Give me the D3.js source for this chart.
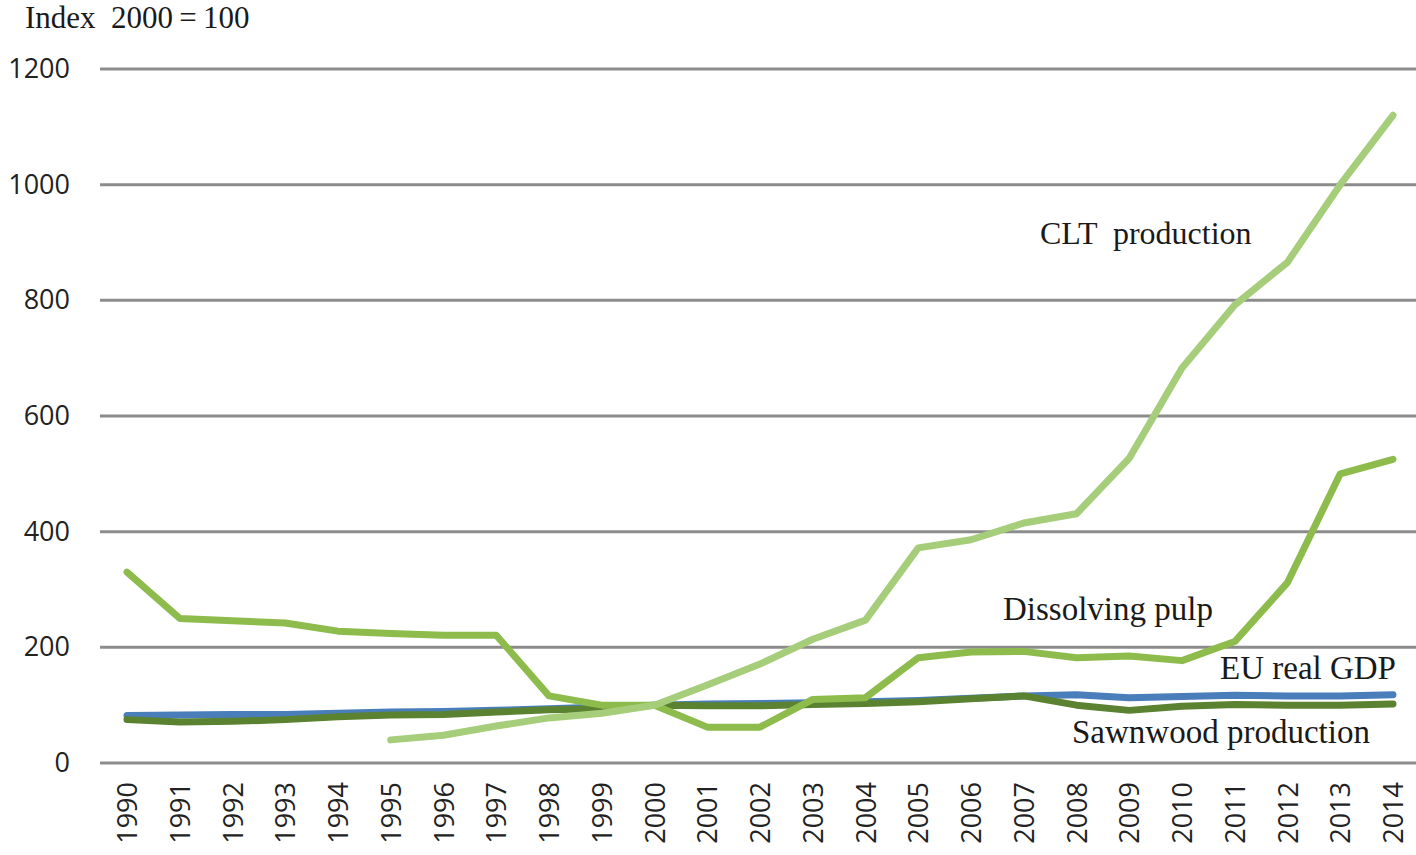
<!DOCTYPE html>
<html>
<head>
<meta charset="utf-8">
<script src="https://cdn.jsdelivr.net/npm/d3@7"></script>
<style>
  body { margin: 0; background: #fff; }
  .tick text { fill: #222; }
</style>
</head>
<body>
<svg width="1416" height="855"></svg>
<script>
var years = d3.range(1990, 2015);
var yTicks = [0, 200, 400, 600, 800, 1000, 1200];

var gdp = [82, 83, 84, 84, 86, 88, 89, 91, 94, 97, 100, 102, 103, 104, 106, 108, 112, 116, 118, 113, 115, 117, 116, 116, 118];
var sawnwood = [75, 71, 72, 75, 80, 83, 84, 88, 92, 94, 100, 99, 99, 101, 103, 106, 111, 116, 100, 91, 98, 101, 100, 100, 102];
var pulp = [330, 250, 246, 242, 228, 224, 221, 221, 116, 100, 100, 62, 62, 110, 113, 182, 192, 193, 182, 185, 177, 210, 312, 500, 525];
// CLT series starts in 1995
var cltYears = d3.range(1995, 2015);
var clt = [40, 48, 64, 78, 86, 100, 135, 171, 214, 247, 372, 386, 415, 431, 527, 683, 792, 866, 1000, 1120];

var svg = d3.select('svg'),
    left = 100,
    x = d3.scaleLinear().domain([1990, 2014]).range([127, 1393]),
    y = d3.scaleLinear().domain([0, 1200]).range([763, 69]);

// gridlines
svg.append('g')
  .selectAll('line')
  .data(yTicks)
  .enter().append('line')
  .attr('x1', left)
  .attr('x2', 1416)
  .attr('y1', function(d) { return y(d); })
  .attr('y2', function(d) { return y(d); })
  .attr('stroke', '#8c8c8c')
  .attr('stroke-width', 3);

// y axis labels
var yAxis = d3.axisLeft(y).tickValues(yTicks).tickFormat(d3.format('d')).tickSize(0).tickPadding(0);
svg.append('g')
  .attr('transform', 'translate(70,0)')
  .call(yAxis)
  .call(function(g) { g.select('.domain').remove(); })
  .selectAll('text')
  .style('font-family', '"Open Sans", "Liberation Sans", sans-serif')
  .style('font-size', '27px');

// x axis labels (rotated)
var xAxis = d3.axisBottom(x).tickValues(years).tickFormat(d3.format('d')).tickSize(0);
svg.append('g')
  .attr('transform', 'translate(0,782)')
  .call(xAxis)
  .call(function(g) { g.select('.domain').remove(); })
  .selectAll('text')
  .style('font-family', '"Open Sans", "Liberation Sans", sans-serif')
  .style('font-size', '27px')
  .attr('text-anchor', 'end')
  .attr('transform', 'rotate(-90)')
  .attr('dy', '0.36em')
  .attr('x', 0)
  .attr('y', 0);

var line = d3.line()
  .x(function(d) { return x(d[0]); })
  .y(function(d) { return y(d[1]); });

var series = [
  { values: d3.zip(years, gdp), color: '#4a7ebb' },
  { values: d3.zip(years, sawnwood), color: '#5b8230' },
  { values: d3.zip(years, pulp), color: '#8dbb4c' },
  { values: d3.zip(cltYears, clt), color: '#a6cd7a' }
];

svg.append('g')
  .selectAll('path')
  .data(series)
  .enter().append('path')
  .attr('d', function(d) { return line(d.values); })
  .attr('fill', 'none')
  .attr('stroke', function(d) { return d.color; })
  .attr('stroke-width', 7)
  .attr('stroke-linecap', 'round')
  .attr('stroke-linejoin', 'round');

// text labels
var labels = [
  { text: 'Index  2000\u2009=\u2009100', x: 25, y: 28, size: 31 },
  { text: 'CLT  production', x: 1040, y: 244, size: 32 },
  { text: 'Dissolving pulp', x: 1003, y: 620, size: 33 },
  { text: 'EU real GDP', x: 1220, y: 679, size: 33 },
  { text: 'Sawnwood production', x: 1072, y: 743, size: 33 }
];

svg.append('g')
  .selectAll('text')
  .data(labels)
  .enter().append('text')
  .attr('x', function(d) { return d.x; })
  .attr('y', function(d) { return d.y; })
  .style('font-family', '"Liberation Serif", "DejaVu Serif", serif')
  .style('font-size', function(d) { return d.size + 'px'; })
  .style('white-space', 'pre')
  .attr('fill', '#1a1a1a')
  .text(function(d) { return d.text; });
</script>
</body>
</html>
